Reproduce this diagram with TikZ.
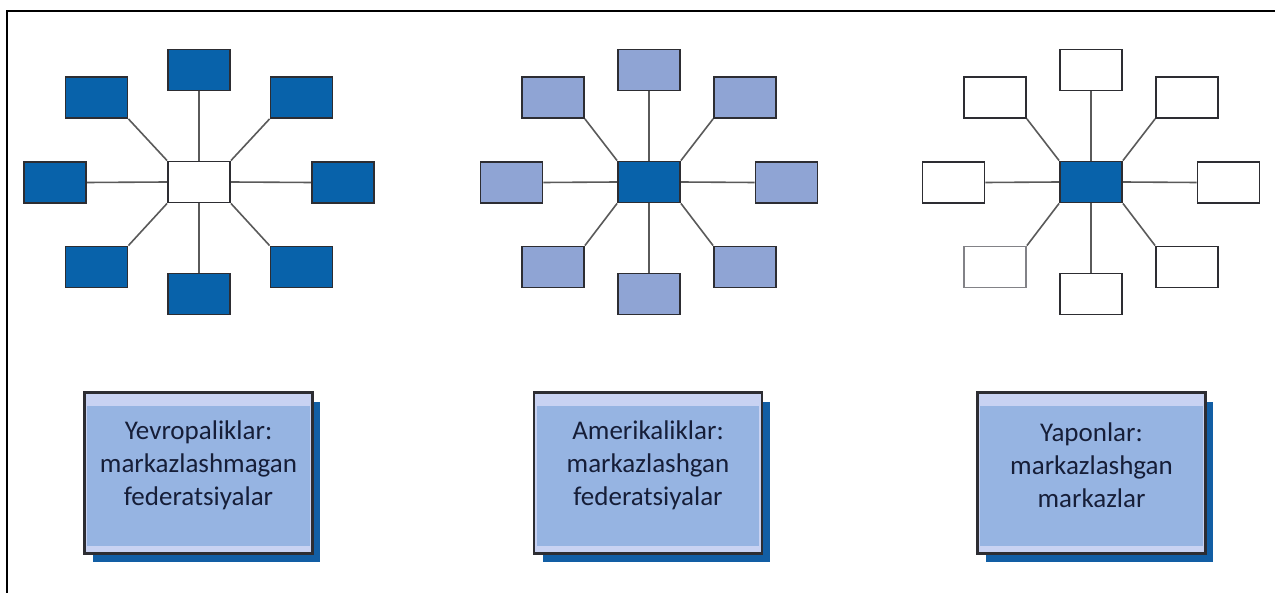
\documentclass[tikz,border=0pt]{standalone}
\usepackage{fontspec}
\setmainfont{Carlito}
\usetikzlibrary{shadows,backgrounds}

\definecolor{hubblue}{RGB}{8,98,170}
\definecolor{paleblue}{RGB}{143,164,212}
\definecolor{edgegray}{RGB}{45,45,50}
\definecolor{softgray}{RGB}{130,130,135}
\definecolor{linkgray}{RGB}{90,90,90}
\definecolor{labelfill}{RGB}{150,180,226}
\definecolor{labelrim}{RGB}{200,210,242}
\definecolor{shadowblue}{RGB}{18,94,164}
\definecolor{textnavy}{RGB}{22,30,56}

\tikzset{
  unit/.style={draw=edgegray, line width=1.8pt, minimum width=62pt,
    minimum height=41pt, inner sep=0pt},
  link/.style={draw=linkgray, line width=1.6pt},
  labelbox/.style={draw=edgegray, line width=1.6pt, fill=labelrim,
    minimum width=227pt, minimum height=160pt, inner sep=0pt,
    drop shadow={shadow xshift=8pt, shadow yshift=-9pt, fill=shadowblue, opacity=1}},
  labelborder/.style={draw=edgegray, line width=1.6pt},
  labeltext/.style={align=center, text=textnavy,
    font=\fontsize{27}{33}\selectfont, inner sep=0pt},
}

% A hub with eight satellites.
% #1 name prefix, #2 centre x, #3 hub style, #4 satellite style,
% #5 diagonal offset, #6 side offset, #7 extra style of the lower-left satellite
\newcommand\hubstar[7]{%
  \node[unit,#3] (#1c)  at (#2,182) {};
  \node[unit,#4] (#1n)  at (#2,70) {};
  \node[unit,#4] (#1s)  at (#2,294) {};
  \node[unit,#4] (#1w)  at ({#2-#6},182.5) {};
  \node[unit,#4] (#1e)  at ({#2+#6},182.5) {};
  \node[unit,#4] (#1nw) at ({#2-#5},97.5) {};
  \node[unit,#4] (#1ne) at ({#2+#5},97.5) {};
  \node[unit,#4,#7] (#1sw) at ({#2-#5},267) {};
  \node[unit,#4] (#1se) at ({#2+#5},267) {};
  \begin{scope}[on background layer]
    \draw[link] (#1c.north) -- (#1n.south);
    \draw[link] (#1c.south) -- (#1s.north);
    \draw[link] (#1c.west) -- (#1w.east);
    \draw[link] (#1c.east) -- (#1e.west);
    \draw[link] (#1c.north west) -- (#1nw.south east);
    \draw[link] (#1c.north east) -- (#1ne.south west);
    \draw[link] (#1c.south west) -- (#1sw.north east);
    \draw[link] (#1c.south east) -- (#1se.north west);
  \end{scope}
}

% Caption panel with a lighter rim and a dark drop shadow
\newcommand\captionpanel[3]{%
  \node[labelbox] (#1) at (#2,473) {};
  \fill[labelfill] ([xshift=3pt,yshift=-14pt]#1.north west)
    rectangle ([xshift=-3pt,yshift=8pt]#1.south east);
  \draw[labelborder] (#1.north west) rectangle (#1.south east);
  \node[labeltext] (#1t) at (#2,465) {#3};
}

\begin{document}
\begin{tikzpicture}[x=1pt,y=-1pt]
  \useasboundingbox (0,0) rectangle (1275,593);
  \begin{scope}[on background layer]
    \fill[white] (0,0) rectangle (1275,593);
  \end{scope}

  % outer frame (top and left edges)
  \draw[line width=2pt, black] (1275,11) -- (7,11) -- (7,593);

  % three organisation models
  \hubstar{a}{199}{fill=white}{fill=hubblue}{102.5}{144}{}
  \hubstar{b}{649}{fill=hubblue}{fill=paleblue}{96}{137.5}{}
  \hubstar{c}{1091}{fill=hubblue}{fill=white}{96}{137.5}{draw=softgray}

  % captions
  \captionpanel{lab1}{198.5}{Yevropaliklar:\\markazlashmagan\\federatsiyalar}
  \captionpanel{lab2}{648}{Amerikaliklar:\\markazlashgan\\federatsiyalar}
  \captionpanel{lab3}{1091.5}{Yaponlar:\\markazlashgan\\markazlar}
\end{tikzpicture}
\end{document}
